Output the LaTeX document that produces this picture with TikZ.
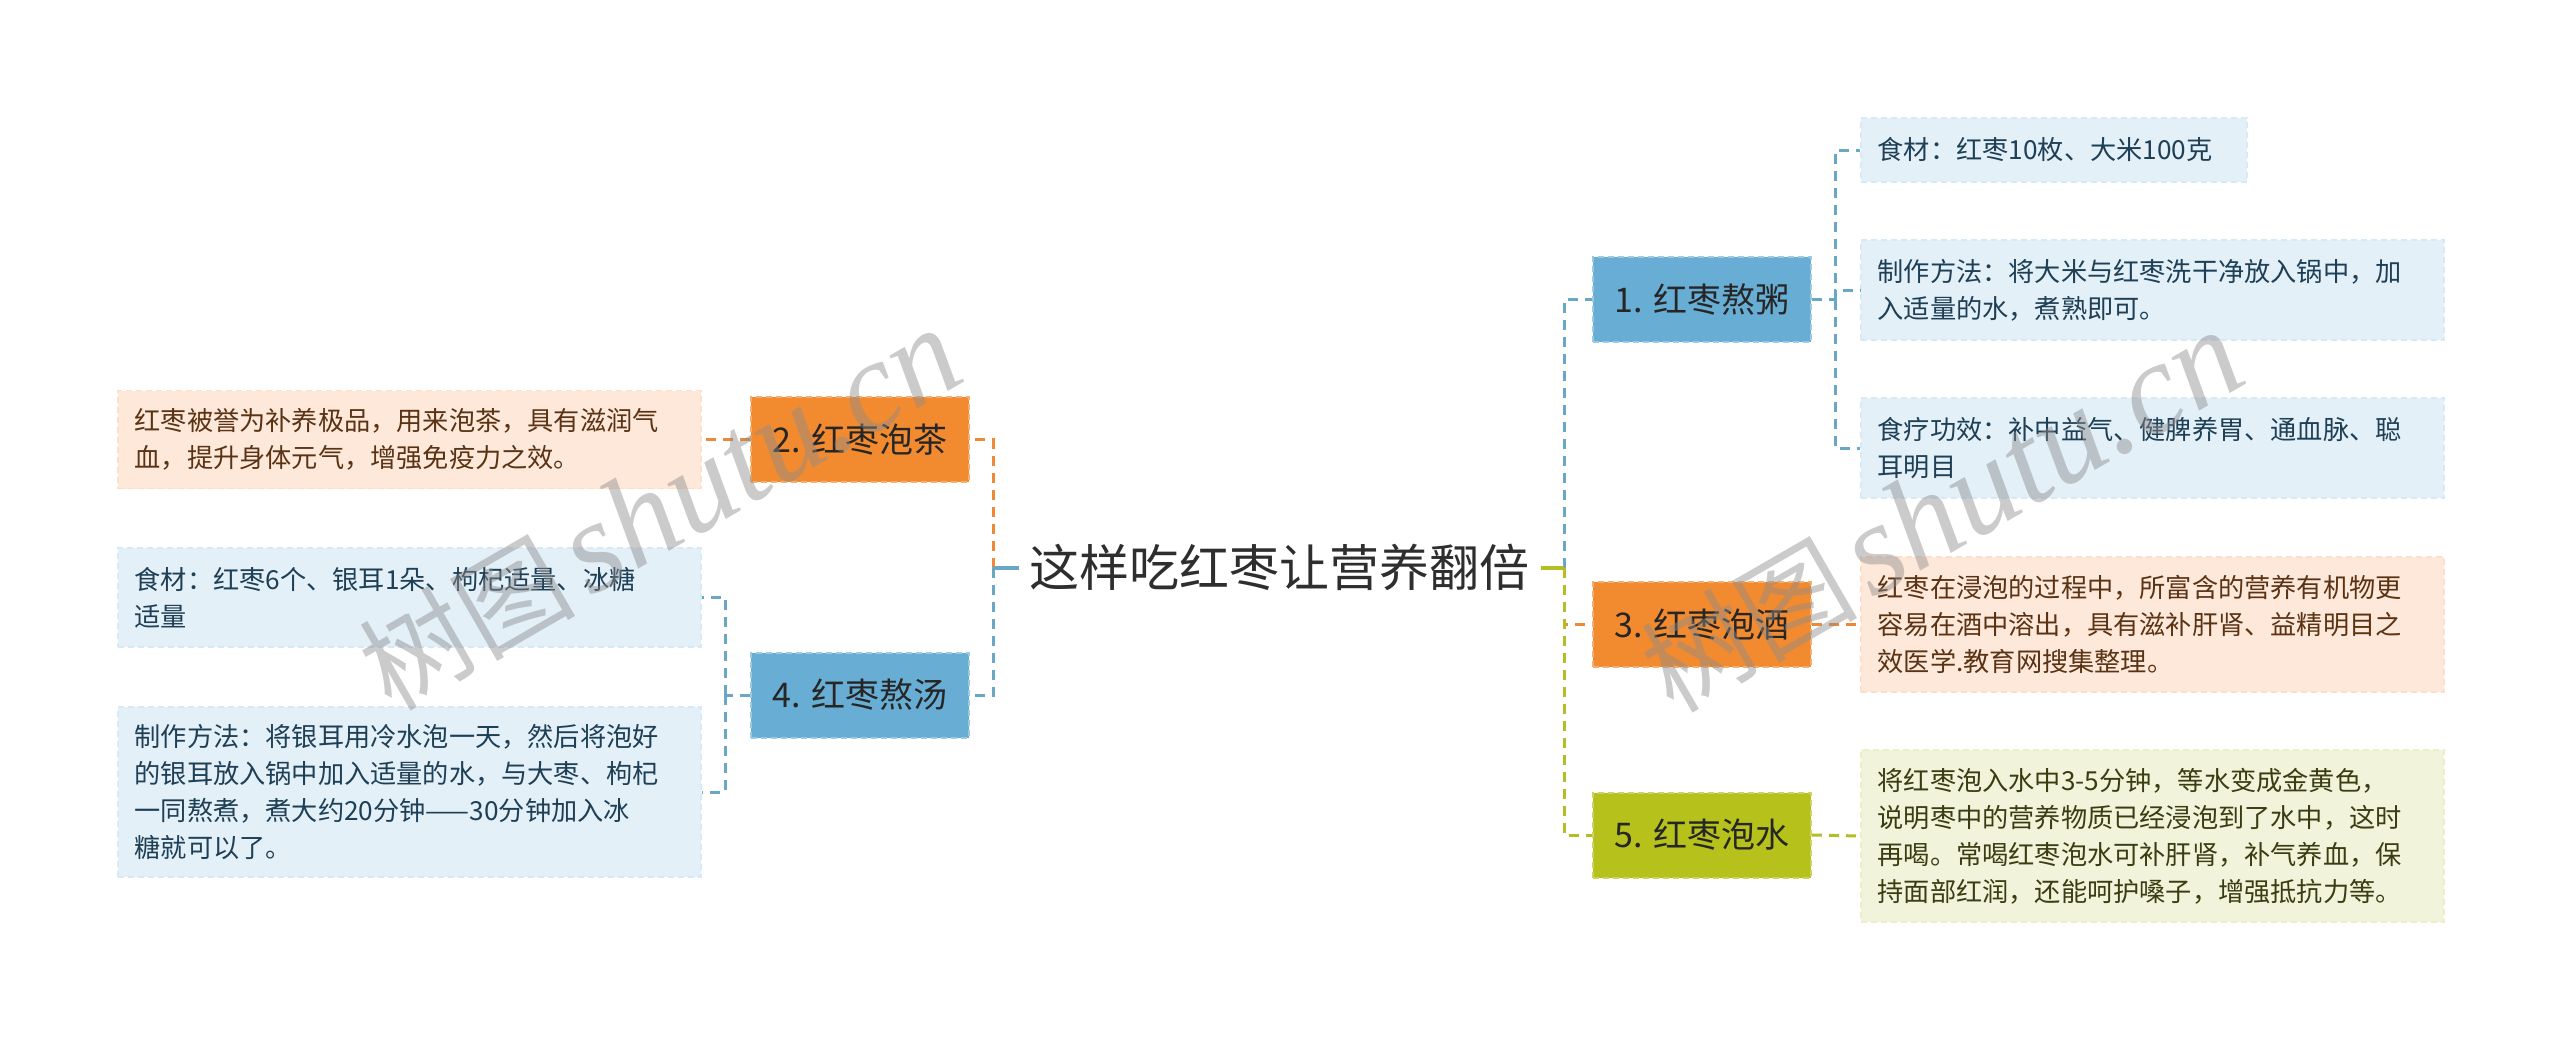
\documentclass[tikz,border=0pt]{standalone}
\usepackage{fontspec}
\setmainfont{Noto Sans CJK SC}
\newfontfamily\cjk{Noto Sans CJK SC}
\newfontfamily\wmlat{Liberation Serif}
\usetikzlibrary{backgrounds}
\definecolor{rootc}{HTML}{EEEEE7}
\definecolor{blueN}{HTML}{68AED4}
\definecolor{orangeN}{HTML}{F28B30}
\definecolor{greenN}{HTML}{B6C11B}
\definecolor{blueT}{HTML}{E3F0F8}
\definecolor{orangeT}{HTML}{FEE8DA}
\definecolor{greenT}{HTML}{F1F3DA}
\definecolor{blueTx}{HTML}{1E3F55}
\definecolor{orangeTx}{HTML}{5A3314}
\definecolor{greenTx}{HTML}{3C3C12}
\definecolor{blueL}{HTML}{6AA6C6}
\definecolor{orangeL}{HTML}{EE8A35}
\definecolor{greenL}{HTML}{B3BE25}
\begin{document}
\begin{tikzpicture}[x=1pt,y=-1pt,
  topic/.style={minimum width=218pt, minimum height=85pt, inner sep=0pt,
    font=\fontsize{34}{40}\selectfont, text=black!85, line width=2pt,
    dash pattern=on 6pt off 4pt},
  txtbox/.style={inner xsep=17pt, inner ysep=0pt, align=left,
    font=\fontsize{26.2}{37}\selectfont, line width=1.5pt,
    dash pattern=on 6pt off 4pt},
  conn/.style={line width=3pt, dash pattern=on 10pt off 7pt},
  spine/.style={line width=4pt},
  wm/.style={rotate=30, text=black!45, text opacity=0.45, inner sep=0pt}
]
\fill[white] (0,0) rectangle (2560,1039);
\useasboundingbox (0,0) rectangle (2560,1039);

% coordinates
\coordinate (rootL) at (1019,567.5);
\coordinate (rootR) at (1541,567.5);
\coordinate (ls) at (993,567.5);
\coordinate (rs) at (1564,567.5);
\coordinate (s1) at (1835,299.5);
\coordinate (s4) at (725,695);

% root
\node[minimum width=486pt, minimum height=115pt, inner sep=0pt,
  font=\fontsize{50}{56}\selectfont, text=black!82] (root) at (1279,567.5) {这样吃红枣让营养翻倍};
\begin{scope}[on background layer]
\fill[rootc] (root.north west) -- (root.north east) -- (rootR) -- (root.south east)
  -- (root.south west) -- (rootL) -- cycle;
\end{scope}

% topic nodes
\node[topic, fill=blueN, draw=blueN!65!white] (n1) at (1702,299.5) {1. 红枣熬粥};
\node[topic, fill=orangeN, draw=orangeN!70!white] (n3) at (1702,624.5) {3. 红枣泡酒};
\node[topic, fill=greenN, draw=greenN!70!white] (n5) at (1702,835) {5. 红枣泡水};
\node[topic, fill=orangeN, draw=orangeN!70!white] (n2) at (860,439.5) {2. 红枣泡茶};
\node[topic, fill=blueN, draw=blueN!65!white] (n4) at (860,695) {4. 红枣熬汤};

% text boxes right
\node[txtbox, anchor=west, fill=blueT, draw=blueT!90!blueN, text=blueTx, text width=352pt, minimum height=64pt] (t1a) at (1860,150) {食材：红枣10枚、大米100克};
\node[txtbox, anchor=west, fill=blueT, draw=blueT!90!blueN, text=blueTx, text width=549pt, minimum height=100pt] (t1b) at (1860,290) {制作方法：将大米与红枣洗干净放入锅中，加\\入适量的水，煮熟即可。};
\node[txtbox, anchor=west, fill=blueT, draw=blueT!90!blueN, text=blueTx, text width=549pt, minimum height=100pt] (t1c) at (1860,448) {食疗功效：补中益气、健脾养胃、通血脉、聪\\耳明目};
\node[txtbox, anchor=west, fill=orangeT, draw=orangeT!90!orangeN, text=orangeTx, text width=549pt, minimum height=135pt] (t3) at (1860,624.5) {红枣在浸泡的过程中，所富含的营养有机物更\\容易在酒中溶出，具有滋补肝肾、益精明目之\\效医学.教育网搜集整理。};
\node[txtbox, anchor=west, fill=greenT, draw=greenT!90!greenN, text=greenTx, text width=549pt, minimum height=172pt] (t5) at (1860,836) {将红枣泡入水中3-5分钟，等水变成金黄色，\\说明枣中的营养物质已经浸泡到了水中，这时\\再喝。常喝红枣泡水可补肝肾，补气养血，保\\持面部红润，还能呵护嗓子，增强抵抗力等。};

% text boxes left
\node[txtbox, anchor=west, fill=orangeT, draw=orangeT!90!orangeN, text=orangeTx, text width=549pt, minimum height=98pt] (t2) at (117,439.5) {红枣被誉为补养极品，用来泡茶，具有滋润气\\血，提升身体元气，增强免疫力之效。};
\node[txtbox, anchor=west, fill=blueT, draw=blueT!90!blueN, text=blueTx, text width=549pt, minimum height=99pt] (t4a) at (117,597.5) {食材：红枣6个、银耳1朵、枸杞适量、冰糖\\适量};
\node[txtbox, anchor=west, fill=blueT, draw=blueT!90!blueN, text=blueTx, text width=549pt, minimum height=170pt] (t4b) at (117,792) {制作方法：将银耳用冷水泡一天，然后将泡好\\的银耳放入锅中加入适量的水，与大枣、枸杞\\一同熬煮，煮大约20分钟——30分钟加入冰\\糖就可以了。};

% connectors from root
\draw[spine, orangeL] (rootL) -- (ls);
\draw[conn, orangeL] (ls) |- (n2.east);
\draw[spine, blueL] (rootL) -- (ls);
\draw[conn, blueL] (ls) |- (n4.east);

\draw[spine, blueL] (rootR) -- (rs);
\draw[conn, blueL] (rs) |- (n1.west);
\draw[conn, orangeL] (rs) |- (n3.west);
\draw[spine, greenL] (rootR) -- (rs);
\draw[conn, greenL] (rs) |- (n5.west);

% sub connectors
\draw[conn, blueL] (n1.east) -- (s1);
\draw[conn, blueL] (s1) |- (t1a.west);
\draw[conn, blueL] (s1) |- (t1b.west);
\draw[conn, blueL] (s1) |- (t1c.west);
\draw[conn, orangeL] (n3.east) -- (t3.west);
\draw[conn, greenL] (n5.east) -- (t5.west);
\draw[conn, orangeL] (n2.west) -- (t2.east);
\draw[conn, blueL] (n4.west) -- (s4);
\draw[conn, blueL] (s4) |- (t4a.east);
\draw[conn, blueL] (s4) |- (t4b.east);

% watermarks
\node[wm] (wm1) at (660,510) {{\cjk\fontsize{108}{110}\selectfont 树图}\hspace{14pt}{\wmlat\itshape\fontsize{130}{135}\selectfont shutu.cn}};
\node[wm] (wm2) at (1942,512) {{\cjk\fontsize{108}{110}\selectfont 树图}\hspace{14pt}{\wmlat\itshape\fontsize{130}{135}\selectfont shutu.cn}};
\end{tikzpicture}
\end{document}
